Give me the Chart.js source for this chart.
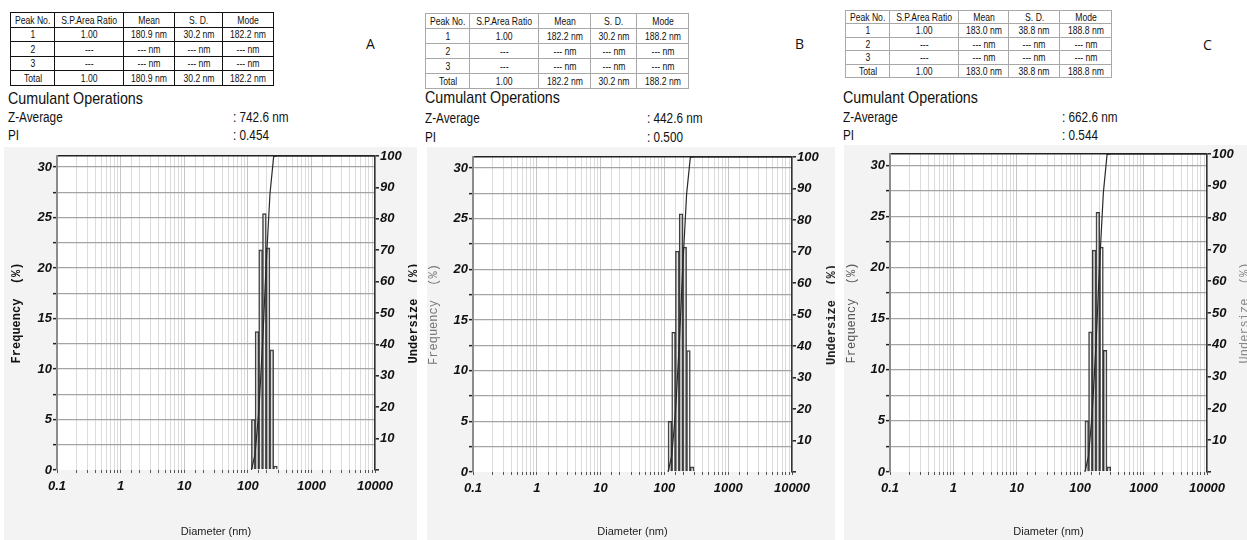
<!DOCTYPE html>
<html><head><meta charset="utf-8">
<script src="https://cdn.jsdelivr.net/npm/chart.js@4.4.1/dist/chart.umd.min.js"></script>
<style>
html,body{margin:0;padding:0;background:#fff;width:1247px;height:540px;overflow:hidden;position:relative;font-family:'Liberation Sans','Arial',sans-serif;color:#111}
.t{position:absolute;white-space:nowrap;line-height:1;transform:scaleX(0.84);transform-origin:left center}
table{position:absolute;border-collapse:collapse;table-layout:fixed;font-size:10.5px;background:#fff}
td{text-align:center;padding:0;line-height:1;overflow:hidden;white-space:nowrap}
td span{display:inline-block;transform:scaleX(0.82)}
table.dark td{border:1.5px solid #111}
table.light td{border:1px solid #a8a8a8}
canvas{position:absolute;background:#f3f3f3}
</style></head><body>
<script>
// ---------- DATA ----------
const tableHeader = ['Peak No.', 'S.P.Area Ratio', 'Mean', 'S. D.', 'Mode'];
const peakRowsA = [['1','1.00','180.9 nm','30.2 nm','182.2 nm'],['2','---','--- nm','--- nm','--- nm'],['3','---','--- nm','--- nm','--- nm'],['Total','1.00','180.9 nm','30.2 nm','182.2 nm']];
const peakRowsB = [['1','1.00','182.2 nm','30.2 nm','188.2 nm'],['2','---','--- nm','--- nm','--- nm'],['3','---','--- nm','--- nm','--- nm'],['Total','1.00','182.2 nm','30.2 nm','188.2 nm']];
const peakRowsC = [['1','1.00','183.0 nm','38.8 nm','188.8 nm'],['2','---','--- nm','--- nm','--- nm'],['3','---','--- nm','--- nm','--- nm'],['Total','1.00','183.0 nm','38.8 nm','188.8 nm']];
const panelLetters = ['A', 'B', 'C'];
const zAverages = ['742.6 nm', '442.6 nm', '662.6 nm'];
const piValues = ['0.454', '0.500', '0.544'];

const xTickLabels = ['0.1', '1', '10', '100', '1000', '10000'];
const binDiameterAB = [121.9, 139.3, 159.3, 182.2, 208.2, 238.0, 272.1];
const binDiameterC  = [126.8, 144.9, 165.7, 189.5, 216.5, 247.5, 283.0];
const freqA = [5.0, 13.7, 21.8, 25.4, 22.0, 11.9, 0.4];
const freqB = [5.0, 13.8, 21.8, 25.5, 22.2, 12.0, 0.5];
const freqC = [5.0, 13.7, 21.7, 25.4, 22.0, 11.9, 0.5];
const cumDiameterAB = [114, 130, 149, 171, 195, 223, 255, 292, 10000];
const cumDiameterC  = [118.6, 135.2, 155.0, 177.8, 202.8, 231.9, 265.2, 303.7, 10000];
const undersizeA = [0, 5.0, 18.7, 40.5, 65.9, 87.9, 99.8, 100, 100];
const undersizeB = [0, 5.0, 18.8, 40.6, 66.1, 88.3, 99.9, 100, 100];
const undersizeC = [0, 5.0, 18.7, 40.4, 65.8, 87.8, 99.8, 100, 100];

// ---------- LAYOUT ----------
const F = "'Liberation Sans',Arial,sans-serif";
const MONO = "'Liberation Mono','DejaVu Sans Mono',monospace";

const panels = [
  {rows: peakRowsA, cls:'dark', tx:10, ty:12, colW:[41,66,51,48,51], rowH:14.5, textX:8, cumY:98, zY:117, piY:135, colonX:233, letterX:366, letterY:44,
   cx:4, cy:147, cw:413, ch:393, leftW:53, rightW:42, padTop:9, xH:70, freqPad:6, freqColor:'#111', freqWeight:'bold', undX:410, undColor:'#111', undWeight:'bold',
   bins:binDiameterAB, freq:freqA, cumX:cumDiameterAB, cum:undersizeA},
  {rows: peakRowsB, cls:'light', tx:425, ty:13, colW:[43,67,52,46,52], rowH:15, textX:425, cumY:97, zY:118, piY:137, colonX:647, letterX:795, letterY:44,
   cx:427, cy:147, cw:408, ch:393, leftW:46, rightW:43, padTop:10, xH:68, freqPad:0, freqColor:'#777', freqWeight:'normal', undX:405, undColor:'#222', undWeight:'bold',
   bins:binDiameterAB, freq:freqB, cumX:cumDiameterAB, cum:undersizeB},
  {rows: peakRowsC, cls:'light', tx:845, ty:10, colW:[38,65,50,51,52], rowH:13.4, textX:843, cumY:97, zY:117, piY:135, colonX:1062, letterX:1203, letterY:45,
   cx:844, cy:145, cw:403, ch:395, leftW:46, rightW:40, padTop:9, xH:68, freqPad:1, freqColor:'#555', freqWeight:'normal', undX:401, undColor:'#888', undWeight:'normal',
   bins:binDiameterC, freq:freqC, cumX:cumDiameterC, cum:undersizeC}
];

function addText(txt, x, cy, size, extra) {
  const d = document.createElement('div');
  d.className = 't';
  d.textContent = txt;
  d.style.left = x + 'px';
  d.style.top = (cy - size / 2) + 'px';
  d.style.fontSize = size + 'px';
  if (extra) Object.assign(d.style, extra);
  document.body.appendChild(d);
}

function buildTable(p) {
  const tb = document.createElement('table');
  tb.className = p.cls;
  tb.style.left = p.tx + 'px';
  tb.style.top = p.ty + 'px';
  const cg = document.createElement('colgroup');
  p.colW.forEach(w => { const c = document.createElement('col'); c.style.width = w + 'px'; cg.appendChild(c); });
  tb.appendChild(cg);
  [tableHeader].concat(p.rows).forEach(r => {
    const tr = document.createElement('tr');
    tr.style.height = p.rowH + 'px';
    r.forEach(v => {
      const td = document.createElement('td');
      const sp = document.createElement('span');
      sp.textContent = v;
      td.appendChild(sp);
      tr.appendChild(td);
    });
    tb.appendChild(tr);
  });
  document.body.appendChild(tb);
}

function isDecade(v) {
  const l = Math.log10(v);
  return Math.abs(l - Math.round(l)) < 1e-6;
}

const whiteArea = {
  id: 'whiteArea',
  beforeDraw(chart) {
    const a = chart.chartArea, c = chart.ctx;
    c.save(); c.fillStyle = '#ffffff'; c.fillRect(a.left, a.top, a.right - a.left, a.bottom - a.top); c.restore();
  }
};

function makeChart(p) {
  const cv = document.createElement('canvas');
  cv.width = p.cw; cv.height = p.ch;
  cv.style.left = p.cx + 'px'; cv.style.top = p.cy + 'px';
  cv.style.width = p.cw + 'px'; cv.style.height = p.ch + 'px';
  document.body.appendChild(cv);

  const rightTitle = {
    id: 'rightTitle',
    afterDraw(chart) {
      const a = chart.chartArea, c = chart.ctx;
      c.save();
      c.translate(p.undX, (a.top + a.bottom) / 2);
      c.rotate(-Math.PI / 2);
      c.font = p.undWeight + ' 12px ' + MONO;
      c.fillStyle = p.undColor;
      c.textAlign = 'center'; c.textBaseline = 'middle';
      c.fillText('Undersize  (%)', 0, 0);
      c.restore();
    }
  };

  const tickFont = {family: F, size: 13, style: 'italic', weight: 'bold'};

  new Chart(cv, {
    type: 'bar',
    data: {
      datasets: [
        {type: 'line', label: 'Undersize', data: p.cumX.map((x, i) => ({x: x, y: p.cum[i]})), yAxisID: 'y1',
         borderColor: '#2a2a2a', borderWidth: 1.2, pointRadius: 0, tension: 0, fill: false, order: 0},
        {type: 'bar', label: 'Frequency', data: p.bins.map((x, i) => ({x: x, y: p.freq[i]})), yAxisID: 'y',
         backgroundColor: 'rgba(255,255,255,0.3)', borderColor: '#333', borderWidth: 1,
         barThickness: 'flex', categoryPercentage: 1, barPercentage: 1, order: 1}
      ]
    },
    options: {
      responsive: false, animation: false, devicePixelRatio: 1,
      layout: {padding: {top: p.padTop, left: 0, right: 0, bottom: 0}},
      plugins: {legend: {display: false}, tooltip: {enabled: false}},
      scales: {
        x: {
          type: 'logarithmic', min: 0.1, max: 10000, offset: false, position: 'bottom',
          grid: {offset: false, color: c => isDecade(c.tick.value) ? '#c6c6c6' : '#dcdcdc', lineWidth: 1,
                 drawTicks: true, tickLength: 3, tickColor: '#555', tickWidth: 1},
          border: {display: false},
          ticks: {autoSkip: false, maxRotation: 0, minRotation: 0, padding: 6, color: '#111', font: tickFont,
                  callback: v => isDecade(v) ? xTickLabels[Math.round(Math.log10(v)) + 1] : ''},
          title: {display: true, text: 'Diameter (nm)', color: '#222', font: {family: F, size: 11}, padding: {top: 0, bottom: 1.4}},
          afterFit: s => { s.height = p.xH; }
        },
        y: {
          position: 'left', min: 0, max: 31.1,
          grid: {color: c => c.tick.value === 0 ? 'rgba(0,0,0,0)' : '#a4a4a4', lineWidth: 1.3,
                 drawTicks: true, tickLength: 4, tickColor: '#222', tickWidth: 1.5},
          border: {display: true, color: '#8c8c8c', width: 2},
          ticks: {stepSize: 2.5, includeBounds: false, padding: 1, color: '#111', font: tickFont,
                  callback: v => (Math.abs(v % 5) < 1e-9) ? String(v) : ''},
          title: {display: true, text: 'Frequency  (%)', color: p.freqColor, font: {family: MONO, size: 12, weight: p.freqWeight}, padding: {top: p.freqPad, bottom: 0}},
          afterFit: s => { s.width = p.leftW; }
        },
        y1: {
          position: 'right', min: 0, max: 100,
          grid: {drawOnChartArea: true, color: c => c.tick.value === 100 ? '#222' : 'rgba(0,0,0,0)', lineWidth: 1.6,
                 drawTicks: true, tickLength: 4, tickColor: '#222', tickWidth: 1.5},
          border: {display: true, color: '#333', width: 1.5},
          ticks: {stepSize: 5, padding: 1, color: '#111', font: tickFont,
                  callback: v => (v % 10 === 0 && v !== 0) ? String(v) : ''},
          afterFit: s => { s.width = p.rightW; }
        }
      }
    },
    plugins: [whiteArea, rightTitle]
  });
}

panels.forEach((p, i) => {
  buildTable(p);
  addText('Cumulant Operations', p.textX, p.cumY, 17);
  addText('Z-Average', p.textX, p.zY, 14);
  addText('PI', p.textX, p.piY, 14);
  addText(':  ' + zAverages[i], p.colonX, p.zY, 14);
  addText(':  ' + piValues[i], p.colonX, p.piY, 14);
  addText(panelLetters[i], p.letterX, p.letterY, 14, {fontFamily: "'Open Sans',sans-serif", transform: 'none'});
  makeChart(p);
});
</script>
</body></html>
